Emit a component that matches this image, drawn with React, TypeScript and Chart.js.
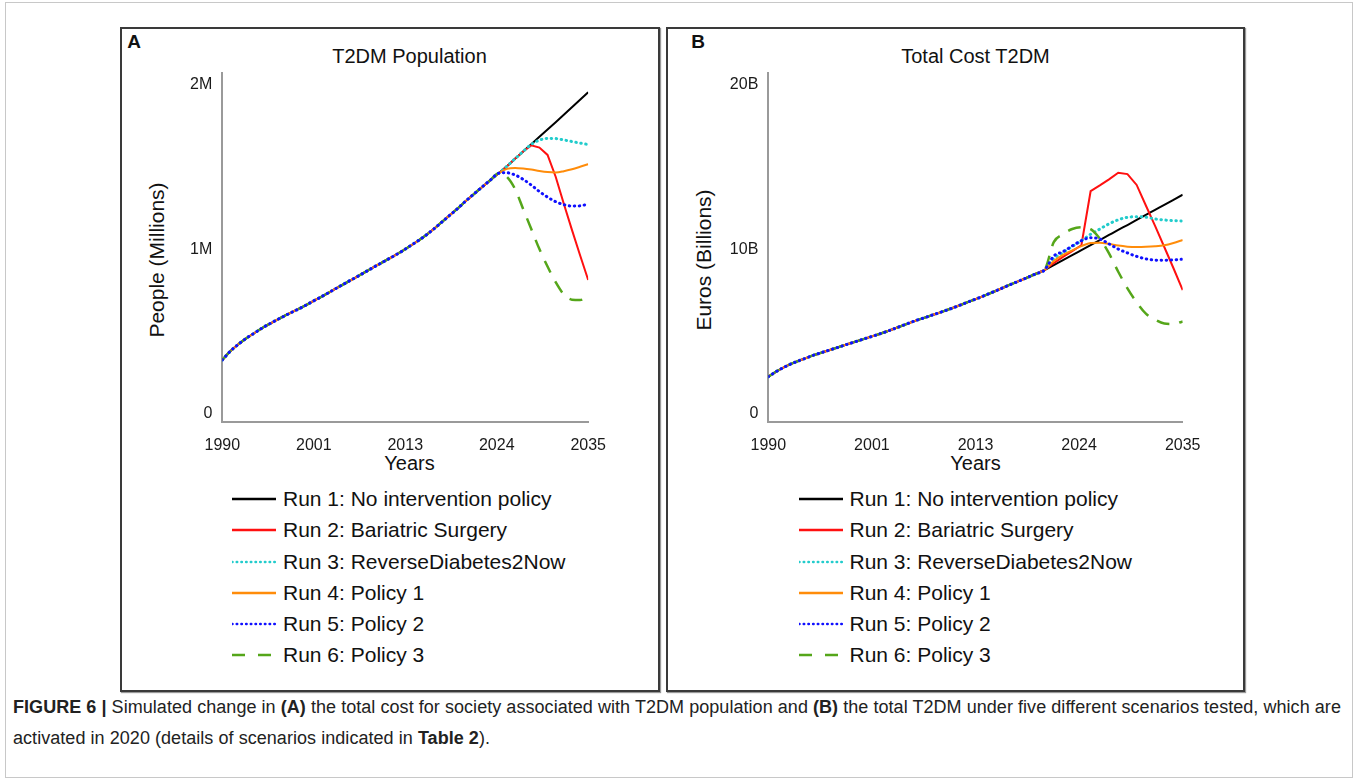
import React, { useEffect, useRef } from 'react';
import { Chart, registerables } from 'chart.js';

Chart.register(...registerables);

const FONT = '"Liberation Sans", Arial, sans-serif';

// ---------- data ----------
const years = [
  1990, 1991, 1992, 1993, 1994, 1995, 1996, 1997, 1998, 1999,
  2000, 2001, 2002, 2003, 2004, 2005, 2006, 2007, 2008, 2009,
  2010, 2011, 2012, 2013, 2014, 2015, 2016, 2017, 2018, 2019,
  2020, 2021, 2022, 2023, 2024, 2025, 2026, 2027, 2028, 2029,
  2030, 2031, 2032, 2033, 2034, 2035,
];

const runNames = [
  'Run 1: No intervention policy',
  'Run 2: Bariatric Surgery',
  'Run 3: ReverseDiabetes2Now',
  'Run 4: Policy 1',
  'Run 5: Policy 2',
  'Run 6: Policy 3',
];

// Panel A: T2DM population (millions), shared history 1990-2024
const popHistory = [
  0.354, 0.405, 0.445, 0.48, 0.51, 0.54, 0.566, 0.591, 0.615, 0.638,
  0.661, 0.687, 0.712, 0.738, 0.765, 0.791, 0.817, 0.843, 0.87, 0.896,
  0.922, 0.948, 0.975, 1.005, 1.035, 1.068, 1.105, 1.145, 1.185, 1.225,
  1.268, 1.308, 1.348, 1.387, 1.425,
];
// 2025-2035
const popRun1 = [1.465, 1.508, 1.55, 1.592, 1.634, 1.676, 1.718, 1.76, 1.803, 1.846, 1.89];
const popRun2 = [1.465, 1.508, 1.55, 1.585, 1.572, 1.53, 1.405, 1.25, 1.1, 0.955, 0.813];
const popRun3 = [1.465, 1.508, 1.55, 1.59, 1.615, 1.625, 1.624, 1.616, 1.607, 1.598, 1.59];
const popRun4 = [1.45, 1.455, 1.452, 1.446, 1.438, 1.432, 1.43, 1.437, 1.448, 1.462, 1.477];
const popRun5 = [1.428, 1.415, 1.39, 1.357, 1.32, 1.288, 1.262, 1.245, 1.237, 1.238, 1.249];
const popRun6 = [1.405, 1.335, 1.22, 1.105, 0.99, 0.89, 0.8, 0.73, 0.7, 0.698, 0.717];

// Panel B: total cost (billions of euros), shared history 1990-2020
const costHistory = [
  2.58, 2.92, 3.2, 3.43, 3.63, 3.83, 4.0, 4.17, 4.34, 4.51,
  4.68, 4.85, 5.02, 5.2, 5.4, 5.6, 5.8, 5.97, 6.15, 6.33,
  6.52, 6.72, 6.93, 7.13, 7.35, 7.57, 7.8, 8.02, 8.24, 8.47,
  8.7,
];
// 2021-2035
const costRun1 = [8.98, 9.27, 9.55, 9.84, 10.13, 10.42, 10.71, 11.0, 11.28, 11.57, 11.86, 12.15, 12.44, 12.73, 13.02];
const costRun2 = [9.1, 9.45, 9.78, 10.12, 13.22, 13.55, 13.9, 14.28, 14.2, 13.58, 12.4, 11.23, 10.02, 8.8, 7.55];
const costRun3 = [9.35, 9.7, 10.05, 10.38, 10.75, 11.05, 11.35, 11.58, 11.72, 11.76, 11.73, 11.63, 11.57, 11.53, 11.51];
const costRun4 = [9.22, 9.57, 9.83, 10.07, 10.25, 10.27, 10.2, 10.1, 10.04, 10.02, 10.03, 10.06, 10.12, 10.25, 10.42];
const costRun5 = [9.5, 9.75, 10.08, 10.38, 10.55, 10.48, 10.2, 9.9, 9.68, 9.48, 9.34, 9.27, 9.26, 9.28, 9.32];
const costRun6 = [10.3, 10.75, 11.05, 11.15, 11.05, 10.5, 9.65, 8.6, 7.65, 6.85, 6.2, 5.85, 5.63, 5.6, 5.75];

const xTickValues = [1990, 2001.25, 2012.5, 2023.75, 2035];
const xTickLabels = ['1990', '2001', '2013', '2024', '2035'];
const popTickValues = [0, 1, 2];
const popTickLabels = ['0', '1M', '2M'];
const costTickValues = [0, 10, 20];
const costTickLabels = ['0', '10B', '20B'];

// ---------- styles ----------
type RunStyle = { color: string; width: number; dash: number[]; cap: CanvasLineCap; order: number; tension: number };
const runStyles: RunStyle[] = [
  { color: '#000000', width: 2, dash: [], cap: 'butt', order: 5, tension: 0.4 },
  { color: '#ff1010', width: 2, dash: [], cap: 'butt', order: 4, tension: 0 },
  { color: '#22cccc', width: 3, dash: [0.5, 4.5], cap: 'round', order: 3, tension: 0.4 },
  { color: '#ff8c0a', width: 2, dash: [], cap: 'butt', order: 2, tension: 0.4 },
  { color: '#1010ff', width: 3, dash: [0.5, 4.5], cap: 'round', order: 0, tension: 0.4 },
  { color: '#55a61a', width: 2.5, dash: [13, 10], cap: 'butt', order: 1, tension: 0.4 },
];

function toPoints(values: number[]) {
  return values.map((v, i) => ({ x: years[i], y: v }));
}

type PanelSpec = {
  canvas: { left: number; top: number; width: number; height: number };
  plot: { left: number; top: number; right: number; bottom: number };
  series: number[][];
  yMax: number;
  yTickValues: number[];
  yTickLabels: string[];
};

function ChartPanel({ spec }: { spec: PanelSpec }) {
  const ref = useRef<HTMLCanvasElement | null>(null);
  useEffect(() => {
    if (!ref.current) return;
    const { canvas, plot } = spec;
    const yWidth = plot.left - canvas.left;
    const xHeight = canvas.top + canvas.height - plot.bottom;
    const padTop = plot.top - canvas.top;
    const padRight = canvas.left + canvas.width - plot.right;

    const yLabelPlugin = {
      id: 'vensimYLabels',
      afterDraw(chart: any) {
        const { ctx, chartArea } = chart;
        const s = chart.scales.y;
        ctx.save();
        ctx.font = `16px ${FONT}`;
        ctx.fillStyle = '#1a1a1a';
        ctx.textAlign = 'right';
        ctx.textBaseline = 'middle';
        spec.yTickValues.forEach((v, i) => {
          let y = s.getPixelForValue(v) + 2;
          if (v === s.max) y += 10;
          else if (v === s.min) y -= 10;
          ctx.fillText(spec.yTickLabels[i], chartArea.left - 10, y);
        });
        ctx.restore();
      },
    };

    const chart = new Chart(ref.current, {
      type: 'line',
      data: {
        datasets: spec.series.map((vals, i) => ({
          label: runNames[i],
          data: toPoints(vals),
          borderColor: runStyles[i].color,
          backgroundColor: runStyles[i].color,
          borderWidth: runStyles[i].width,
          borderDash: runStyles[i].dash,
          borderCapStyle: runStyles[i].cap,
          cubicInterpolationMode: runStyles[i].tension > 0 ? 'monotone' : 'default',
          tension: runStyles[i].tension,
          pointRadius: 0,
          fill: false,
          order: runStyles[i].order,
        })),
      },
      options: {
        responsive: false,
        maintainAspectRatio: false,
        animation: false,
        devicePixelRatio: 1,
        layout: { padding: { top: padTop, right: padRight, left: 0, bottom: 0 } },
        plugins: { legend: { display: false }, tooltip: { enabled: false }, title: { display: false } },
        scales: {
          x: {
            type: 'linear',
            min: 1990,
            max: 2035,
            grid: { display: false, drawTicks: false },
            border: { display: true, color: '#9a9a9a', width: 2 },
            ticks: {
              autoSkip: false,
              maxRotation: 0,
              padding: 14,
              color: '#1a1a1a',
              font: { family: FONT, size: 16 },
              callback: (_v: any, idx: number) => xTickLabels[idx],
            },
            afterBuildTicks: (scale: any) => {
              scale.ticks = xTickValues.map((v) => ({ value: v }));
            },
            afterFit: (scale: any) => {
              scale.height = xHeight;
            },
          },
          y: {
            type: 'linear',
            min: 0,
            max: spec.yMax,
            grid: { display: false, drawTicks: false },
            border: { display: true, color: '#9a9a9a', width: 2 },
            ticks: { display: false },
            afterBuildTicks: (scale: any) => {
              scale.ticks = spec.yTickValues.map((v) => ({ value: v }));
            },
            afterFit: (scale: any) => {
              scale.width = yWidth;
            },
          },
        },
      } as any,
      plugins: [yLabelPlugin],
    });
    return () => chart.destroy();
  }, [spec]);
  const c = spec.canvas;
  return (
    <canvas
      ref={ref}
      width={c.width}
      height={c.height}
      style={{ position: 'absolute', left: c.left, top: c.top, width: c.width, height: c.height }}
    />
  );
}

function Legend({ left, top }: { left: number; top: number }) {
  return (
    <div style={{ position: 'absolute', left, top }}>
      {runNames.map((name, i) => {
        const st = runStyles[i];
        return (
          <div key={name} style={{ position: 'absolute', left: 0, top: i * 31.2 - 12, height: 24, whiteSpace: 'nowrap' }}>
            <svg width={46} height={24} style={{ position: 'absolute', left: 0, top: 0 }}>
              <line
                x1={0}
                y1={12}
                x2={44}
                y2={12}
                stroke={st.color}
                strokeWidth={2.5}
                strokeDasharray={i === 5 ? '13 13' : st.dash.length ? '0.5 4.2' : undefined}
                strokeLinecap={st.cap}
              />
            </svg>
            <span
              style={{
                position: 'absolute',
                left: 51,
                top: 0,
                lineHeight: '24px',
                fontSize: 21,
                fontFamily: FONT,
                color: '#111',
              }}
            >
              {name}
            </span>
          </div>
        );
      })}
    </div>
  );
}

const centered = (x: number, y: number, extra: React.CSSProperties = {}): React.CSSProperties => ({
  position: 'absolute',
  left: x,
  top: y,
  transform: 'translate(-50%, -50%)',
  whiteSpace: 'nowrap',
  fontFamily: FONT,
  lineHeight: 1,
  color: '#111',
  ...extra,
});

const popSeries = [popRun1, popRun2, popRun3, popRun4, popRun5, popRun6].map((tail) => [...popHistory, ...tail]);
const costSeries = [costRun1, costRun2, costRun3, costRun4, costRun5, costRun6].map((tail) => [...costHistory, ...tail]);

const specA: PanelSpec = {
  canvas: { left: 160, top: 60, width: 460, height: 400 },
  plot: { left: 222.3, top: 73, right: 596.7, bottom: 421.7 },
  series: popSeries,
  yMax: 2,
  yTickValues: popTickValues,
  yTickLabels: popTickLabels,
};

const specB: PanelSpec = {
  canvas: { left: 700, top: 60, width: 520, height: 400 },
  plot: { left: 768.3, top: 73, right: 1182.7, bottom: 421.7 },
  series: costSeries,
  yMax: 20,
  yTickValues: costTickValues,
  yTickLabels: costTickLabels,
};

export default function App() {
  return (
    <div style={{ position: 'absolute', left: 0, top: 0, width: 1357, height: 780, background: '#fff', overflow: 'hidden' }}>
      <div style={{ position: 'absolute', left: 5, top: 2, width: 1346, height: 774, border: '1px solid #c8c8c8' }} />
      {/* Panel A */}
      <div style={{ position: 'absolute', left: 120, top: 27, width: 536, height: 661, border: '2px solid #3a3a3a', boxShadow: '1px 1px 1px #999' }} />
      <div style={centered(134, 41, { fontWeight: 'bold', fontSize: 19 })}>A</div>
      <div style={centered(409.5, 56, { fontSize: 20 })}>T2DM Population</div>
      <div style={centered(156, 260, { fontSize: 21, transform: 'translate(-50%, -50%) rotate(-90deg)' })}>People (Millions)</div>
      <div style={centered(409.5, 463, { fontSize: 20 })}>Years</div>
      <ChartPanel spec={specA} />
      <Legend left={232} top={499.3} />
      {/* Panel B */}
      <div style={{ position: 'absolute', left: 666, top: 27, width: 575, height: 661, border: '2px solid #3a3a3a', boxShadow: '1px 1px 1px #999' }} />
      <div style={centered(698, 41, { fontWeight: 'bold', fontSize: 19 })}>B</div>
      <div style={centered(975.5, 56, { fontSize: 20 })}>Total Cost T2DM</div>
      <div style={centered(703, 260, { fontSize: 21, transform: 'translate(-50%, -50%) rotate(-90deg)' })}>Euros (Billions)</div>
      <div style={centered(975.5, 463, { fontSize: 20 })}>Years</div>
      <ChartPanel spec={specB} />
      <Legend left={798.5} top={499.3} />
      {/* Caption */}
      <div
        style={{
          position: 'absolute',
          left: 13,
          top: 692,
          fontFamily: FONT,
          fontSize: 18,
          letterSpacing: '0.05px',
          lineHeight: '31px',
          color: '#222',
          whiteSpace: 'nowrap',
        }}
      >
        <b>FIGURE 6 |</b> Simulated change in <b>(A)</b> the total cost for society associated with T2DM population and <b>(B)</b> the total T2DM under five different scenarios tested, which are
        <br />
        activated in 2020 (details of scenarios indicated in <b>Table 2</b>).
      </div>
    </div>
  );
}
